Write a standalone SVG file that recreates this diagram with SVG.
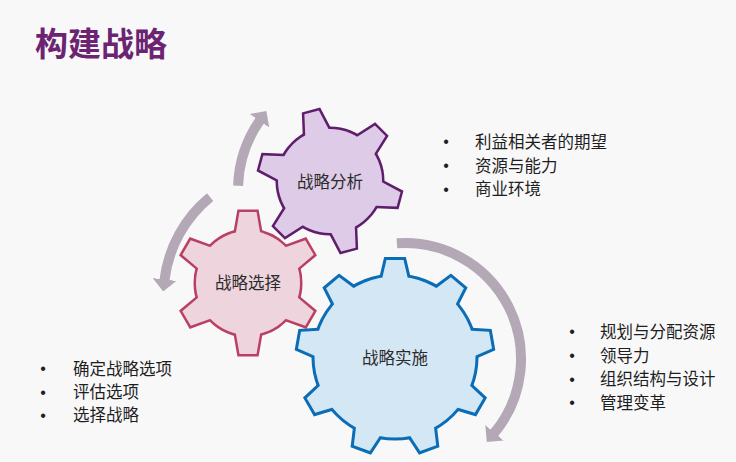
<svg xmlns="http://www.w3.org/2000/svg" xmlns:xlink="http://www.w3.org/1999/xlink" width="736" height="462" viewBox="0 0 736 462">
<style>
.bg{fill:#f8f8f9}
.title{font-family:"Liberation Sans","Noto Sans CJK SC",sans-serif;font-weight:bold;font-size:33px;fill:#6c2472}
.lbl{font-family:"Liberation Sans","Noto Sans CJK SC",sans-serif;font-size:16.5px;fill:#2b2b2b;text-anchor:middle}
.item{font-family:"Liberation Sans","Noto Sans CJK SC",sans-serif;font-size:16.5px;fill:#1e1e1e}
.bul{font-family:"Liberation Sans",sans-serif;font-size:16px;fill:#1e1e1e;text-anchor:middle}
.arc{fill:none;stroke:#b4a8b7;stroke-width:10;marker-end:url(#ah)}
.blue-s{fill:none;stroke:#0b6db6;stroke-width:6;stroke-linejoin:miter}
.blue-f{fill:#d3e7f5;stroke:none}
.pink-s{fill:none;stroke:#b93f63;stroke-width:5;stroke-linejoin:miter}
.pink-f{fill:#edd4dd;stroke:none}
.purp-s{fill:none;stroke:#5f1d6c;stroke-width:5;stroke-linejoin:miter}
.purp-f{fill:#ddcbe7;stroke:none}
</style>
<defs>
<marker id="ah" markerUnits="userSpaceOnUse" markerWidth="12" markerHeight="24" viewBox="0 0 12 24" refX="1" refY="12" orient="auto">
<path d="M0,0 L12,12 L0,24 Z" fill="#b4a8b7"/>
</marker>
<polygon id="tooth-b" points="-8.5,-97 8.5,-97 12.5,-80 14,-70 -14,-70 -12.5,-80"/>
<polygon id="tooth-p" points="-8.5,-71 8.5,-71 12,-51 13,-42 -13,-42 -12,-51"/>
<polygon id="tooth-v" points="-7.5,-71 7.5,-71 12,-51 13,-42 -13,-42 -12,-51"/>
<g id="shape-blue">
<circle r="80.5"/>
<use xlink:href="#tooth-b"/>
<use xlink:href="#tooth-b" transform="rotate(40)"/>
<use xlink:href="#tooth-b" transform="rotate(80)"/>
<use xlink:href="#tooth-b" transform="rotate(120)"/>
<use xlink:href="#tooth-b" transform="rotate(160)"/>
<use xlink:href="#tooth-b" transform="rotate(200)"/>
<use xlink:href="#tooth-b" transform="rotate(240)"/>
<use xlink:href="#tooth-b" transform="rotate(280)"/>
<use xlink:href="#tooth-b" transform="rotate(320)"/>
</g>
<g id="shape-pink">
<circle r="52"/>
<use xlink:href="#tooth-p"/>
<use xlink:href="#tooth-p" transform="rotate(60)"/>
<use xlink:href="#tooth-p" transform="rotate(120)"/>
<use xlink:href="#tooth-p" transform="rotate(180)"/>
<use xlink:href="#tooth-p" transform="rotate(240)"/>
<use xlink:href="#tooth-p" transform="rotate(300)"/>
</g>
<g id="shape-purple">
<circle r="52"/>
<use xlink:href="#tooth-v" transform="rotate(-15)"/>
<use xlink:href="#tooth-v" transform="rotate(45)"/>
<use xlink:href="#tooth-v" transform="rotate(105)"/>
<use xlink:href="#tooth-v" transform="rotate(165)"/>
<use xlink:href="#tooth-v" transform="rotate(225)"/>
<use xlink:href="#tooth-v" transform="rotate(285)"/>
</g>
</defs>
<rect class="bg" x="0" y="0" width="736" height="462"/>
<text class="title" x="35" y="56">构建战略</text>

<g id="connectors">
<path class="arc" d="M238.07,185.74 A122,122 0 0 1 260.06,120.02"/>
<path class="arc" d="M210.12,197.05 A126.4,126.4 0 0 0 164.44,280.47"/>
<path class="arc" d="M396.91,243.28 A116,116 0 0 1 493.86,433.56"/>
</g>

<g id="gear-select" transform="translate(248,283)">
<use xlink:href="#shape-pink" class="pink-s"/>
<use xlink:href="#shape-pink" class="pink-f"/>
<text class="lbl" x="0" y="6.3">战略选择</text>
</g>

<g id="gear-analysis" transform="translate(330,181)">
<use xlink:href="#shape-purple" class="purp-s"/>
<use xlink:href="#shape-purple" class="purp-f"/>
<text class="lbl" x="0" y="7.3">战略分析</text>
</g>

<g id="gear-implement" transform="translate(395,357)">
<use xlink:href="#shape-blue" class="blue-s"/>
<use xlink:href="#shape-blue" class="blue-f"/>
<text class="lbl" x="0" y="7.3">战略实施</text>
</g>

<g id="list-analysis">
<text class="bul" x="446" y="147">•</text>
<text class="bul" x="446" y="171">•</text>
<text class="bul" x="446" y="195">•</text>
<text class="item" x="475" y="148">利益相关者的期望</text>
<text class="item" x="475" y="171.6">资源与能力</text>
<text class="item" x="475" y="195.3">商业环境</text>
</g>

<g id="list-implement">
<text class="bul" x="572" y="337">•</text>
<text class="bul" x="572" y="361">•</text>
<text class="bul" x="572" y="385">•</text>
<text class="bul" x="572" y="408">•</text>
<text class="item" x="600" y="337.8">规划与分配资源</text>
<text class="item" x="600" y="361.6">领导力</text>
<text class="item" x="600" y="385.4">组织结构与设计</text>
<text class="item" x="600" y="409.2">管理变革</text>
</g>

<g id="list-select">
<text class="bul" x="43" y="374">•</text>
<text class="bul" x="43" y="397.5">•</text>
<text class="bul" x="43" y="421">•</text>
<text class="item" x="73" y="374.6">确定战略选项</text>
<text class="item" x="73" y="398">评估选项</text>
<text class="item" x="73" y="421.3">选择战略</text>
</g>
</svg>
